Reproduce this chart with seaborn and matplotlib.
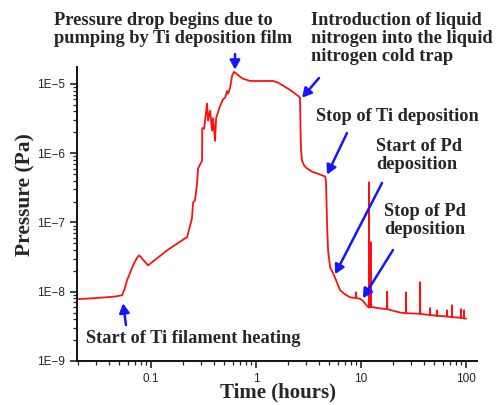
import matplotlib
matplotlib.use("Agg")
import matplotlib.pyplot as plt
from matplotlib.ticker import LogLocator, FuncFormatter, NullFormatter
import numpy as np
import pandas as pd
import seaborn as sns

# Presión en la cámara frente al tiempo
time_h = [0.0197, 0.03, 0.045, 0.053, 0.056, 0.059, 0.0674, 0.0736, 0.0769, 0.0786,
          0.0936, 0.142, 0.211, 0.220, 0.245, 0.251, 0.262, 0.274, 0.28, 0.306,
          0.307, 0.320, 0.341, 0.349, 0.365, 0.381, 0.389, 0.407, 0.416, 0.454,
          0.485, 0.507, 0.529, 0.541, 0.565, 0.591, 0.617, 0.631, 0.736, 0.877,
          1.09, 1.45, 1.62, 1.81, 2.1, 2.51, 2.62, 2.65, 2.68, 2.74,
          2.87, 3.06, 3.42, 3.81, 4.54, 4.63, 4.74, 4.85, 5.07, 5.41,
          5.77, 6.31, 7.0, 7.85, 8.9, 8.95, 9.0, 9.78, 10.4, 11.4,
          11.85, 11.9, 11.95, 12.3, 12.35, 12.4, 12.7, 14.5, 17.6, 17.7,
          17.8, 23.5, 26.7, 26.8, 26.9, 36.4, 36.5, 36.6, 45.3, 45.4,
          45.5, 52.6, 52.7, 52.8, 65.8, 65.9, 66.0, 73.5, 73.6, 73.7,
          89.5, 89.6, 89.7, 95.5, 95.6, 95.7, 100]
pressure_pa = [7.8e-9, 8.1e-9, 8.5e-9, 8.9e-9, 1.1e-8, 1.46e-8, 2.4e-8, 3.1e-8, 3.35e-8, 3.24e-8,
               2.4e-8, 3.95e-8, 5.9e-8, 6.1e-8, 1.14e-7, 1.94e-7, 2.08e-7, 3.64e-7, 6.0e-7, 7.8e-7,
               2.3e-6, 2.25e-6, 5.2e-6, 2.94e-6, 4.1e-6, 2.1e-6, 3.2e-6, 1.5e-6, 3.2e-6, 4.8e-6,
               6.0e-6, 6.3e-6, 7.9e-6, 7.2e-6, 8.7e-6, 1.31e-5, 1.49e-5, 1.45e-5, 1.2e-5, 1.1e-5,
               1.1e-5, 1.1e-5, 1.04e-5, 9.4e-6, 8.2e-6, 6.7e-6, 6.3e-6, 2.1e-6, 1.09e-6, 7.8e-7,
               6.6e-7, 6.0e-7, 5.4e-7, 5.1e-7, 4.6e-7, 4.0e-7, 9.4e-8, 3.9e-8, 2.25e-8, 1.85e-8,
               1.47e-8, 1.05e-8, 9.2e-9, 8.3e-9, 8.1e-9, 9.8e-9, 8.1e-9, 7.9e-9, 7.4e-9, 6.2e-9,
               5.9e-9, 3.8e-7, 6.0e-9, 6.0e-9, 5.2e-8, 6.0e-9, 6.0e-9, 5.8e-9, 5.6e-9, 1.0e-8,
               5.6e-9, 5.0e-9, 4.9e-9, 9.8e-9, 4.9e-9, 4.8e-9, 1.37e-8, 4.8e-9, 4.6e-9, 5.8e-9,
               4.6e-9, 4.5e-9, 5.4e-9, 4.5e-9, 4.4e-9, 5.4e-9, 4.4e-9, 4.3e-9, 6.4e-9, 4.3e-9,
               4.2e-9, 5.6e-9, 4.2e-9, 4.15e-9, 5.4e-9, 4.1e-9, 4.1e-9]

# Eventos anotados: texto, tiempo y presión donde apunta la flecha
event_labels = ["Pressure drop begins due to\npumping by Ti deposition film",
                "Introduction of liquid\nnitrogen into the liquid\nnitrogen cold trap",
                "Stop of Ti deposition",
                "Start of Pd\ndeposition",
                "Stop of Pd\ndeposition",
                "Start of Ti filament heating"]
event_time = [0.63, 2.74, 4.74, 5.65, 10.4, 0.054]
event_pressure = [1.6e-5, 6.3e-6, 4.9e-7, 1.79e-8, 8.05e-9, 6.8e-9]

df = pd.DataFrame({"time": time_h, "pressure": pressure_pa})

sns.set_style("ticks")
plt.rcParams["font.family"] = ["Liberation Sans", "DejaVu Sans"]

W, H = 496, 405
fig = plt.figure(figsize=(W / 100, H / 100), dpi=100)
ax = fig.add_axes([77 / W, 1 - 361 / H, 400 / W, 294 / H])

sns.lineplot(data=df, x="time", y="pressure", ax=ax, color="#ff1010",
             lw=1.3, estimator=None, sort=False)

ax.set_xscale("log")
ax.set_yscale("log")
ax.set_xlim(0.0197, 127)
ax.set_ylim(1e-9, 1.75e-5)

ax.yaxis.set_major_locator(LogLocator(base=10, numticks=10))
ax.yaxis.set_major_formatter(FuncFormatter(lambda v, p: "1E\u2212%d" % round(-np.log10(v))))
ax.yaxis.set_minor_locator(LogLocator(base=10, subs=np.arange(2, 10), numticks=20))
ax.yaxis.set_minor_formatter(NullFormatter())
ax.xaxis.set_major_formatter(FuncFormatter(lambda v, p: "%g" % v))
ax.xaxis.set_minor_locator(LogLocator(base=10, subs=np.arange(2, 10), numticks=20))
ax.xaxis.set_minor_formatter(NullFormatter())

ax.tick_params(which="major", length=5, width=1.2, labelsize=8.5, colors="#222222")
ax.tick_params(which="minor", length=3, width=0.9, colors="#222222")
for s in ["left", "bottom"]:
    ax.spines[s].set_linewidth(1.4)
    ax.spines[s].set_color("#111111")
sns.despine(ax=ax)

serif = dict(family=["Liberation Serif", "DejaVu Serif"], weight="bold")
ax.set_xlabel("Time (hours)", fontsize=15, **serif)
ax.set_ylabel("Pressure (Pa)", fontsize=15.5, **serif)
ax.xaxis.set_label_coords(0.503, -0.073)
ax.yaxis.set_label_coords(-0.105, 0.565)

# posiciones del texto (px desde arriba a la izquierda) y de la cola de cada flecha
text_pos = [(54, 12), (311, 12), (316, 108), (376, 138), (384, 203), (86, 330)]
tail_pos = [(235, 54), (319, 78), (347, 133), (382, 183), (393, 250), (126, 325)]

for lab, t, p, (tx, ty), (ax_, ay_) in zip(event_labels, event_time, event_pressure,
                                           text_pos, tail_pos):
    fig.text(tx / W, 1 - ty / H, lab, ha="left", va="top", fontsize=13.2,
             linespacing=1.08, **serif)
    ax.annotate("", xy=(t, p), xycoords="data",
                xytext=(ax_ / W, 1 - ay_ / H), textcoords="figure fraction",
                arrowprops=dict(arrowstyle="-|>,head_length=0.55,head_width=0.3",
                                color="#1515ff", lw=1.8, shrinkA=0, shrinkB=0),
                annotation_clip=False)

fig.savefig("out.png", dpi=100)
